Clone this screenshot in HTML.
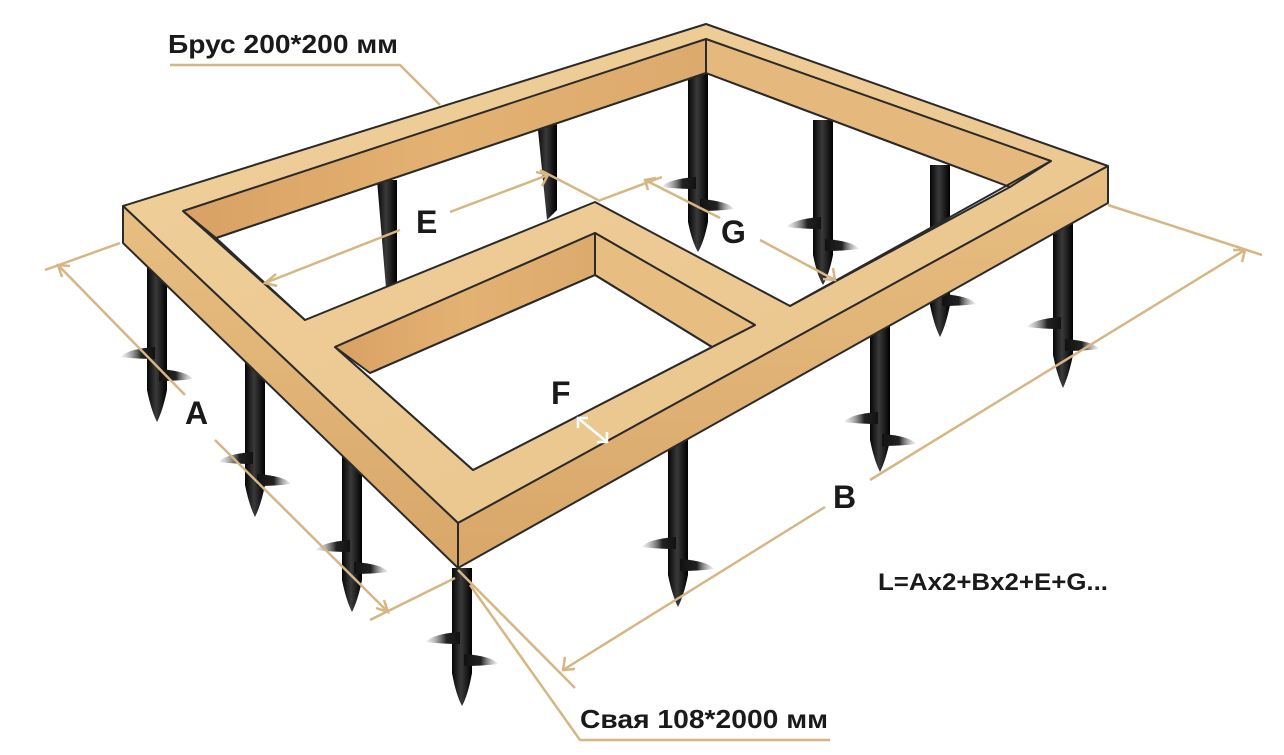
<!DOCTYPE html>
<html><head><meta charset="utf-8"><style>
html,body{margin:0;padding:0;background:#fff;}
svg{display:block;}
text{font-family:"Liberation Sans",sans-serif;font-weight:bold;fill:#1a1a1a;}
</style></head><body>
<svg width="1284" height="755" viewBox="0 0 1284 755" xmlns="http://www.w3.org/2000/svg">
<defs>
<linearGradient id="rod" x1="0" x2="1" y1="0" y2="0">
<stop offset="0" stop-color="#050505"/><stop offset="0.45" stop-color="#3a3a3a"/><stop offset="1" stop-color="#000"/>
</linearGradient>
<linearGradient id="bladeL" x1="0" x2="1" y1="0" y2="0">
<stop offset="0" stop-color="#ccc" stop-opacity="0.3"/><stop offset="0.6" stop-color="#222"/><stop offset="1" stop-color="#111"/>
</linearGradient>
<linearGradient id="bladeR" x1="0" x2="1" y1="0" y2="0">
<stop offset="0" stop-color="#111"/><stop offset="0.5" stop-color="#222"/><stop offset="1" stop-color="#ccc" stop-opacity="0.3"/>
</linearGradient>
<linearGradient id="top" x1="0" y1="0" x2="1" y2="1">
<stop offset="0" stop-color="#f0cf9a"/><stop offset="1" stop-color="#eac48c"/>
</linearGradient>
<linearGradient id="inner" x1="0" y1="0" x2="1" y2="0">
<stop offset="0" stop-color="#d9a164"/><stop offset="0.5" stop-color="#e3b273"/><stop offset="1" stop-color="#dcaa6c"/>
</linearGradient>
<linearGradient id="front" x1="0" y1="0" x2="0" y2="1">
<stop offset="0" stop-color="#e8be82"/><stop offset="1" stop-color="#d8a769"/>
</linearGradient>
<g id="pile">
<path d="M-2,-8 Q-30,-6 -36,2 Q-20,4 -2,4 Z" fill="url(#bladeL)"/>
<path d="M2,14 Q30,16 36,24 Q20,26 2,26 Z" fill="url(#bladeR)"/>
</g>
</defs>

<!-- piles -->
<g>
<g fill="url(#rod)">
<path d="M537,120 h20 v90 l-10,10 z"/>
<path d="M688,72 h20 v150 q-4,20 -10,30 q-6,-10 -10,-30 z"/>
<path d="M813,120 h20 v135 q-4,20 -10,30 q-6,-10 -10,-30 z"/>
<path d="M930,165 h20 v140 q-4,20 -10,32 q-6,-12 -10,-32 z"/>
<path d="M377,180 h20 v110 l-10,10 z"/>
<path d="M1053,220 h20 v135 q-4,20 -10,33 q-6,-13 -10,-33 z"/>
<path d="M870,325 h20 v115 q-4,20 -10,32 q-6,-12 -10,-32 z"/>
<path d="M668,440 h20 v135 q-4,20 -10,32 q-6,-12 -10,-32 z"/>
<path d="M147,240 h20 v150 q-4,20 -10,32 q-6,-12 -10,-32 z"/>
<path d="M245,330 h20 v155 q-4,20 -10,32 q-6,-12 -10,-32 z"/>
<path d="M342,445 h20 v135 q-4,20 -10,32 q-6,-12 -10,-32 z"/>
<path d="M452,568 h20 v105 q-4,22 -10,33 q-6,-11 -10,-33 z"/>
</g>
<use href="#pile" x="698" y="185"/>
<use href="#pile" x="823" y="225"/>
<use href="#pile" x="940" y="280"/>
<use href="#pile" x="1063" y="325"/>
<use href="#pile" x="880" y="420"/>
<use href="#pile" x="678" y="545"/>
<use href="#pile" x="157" y="355"/>
<use href="#pile" x="255" y="460"/>
<use href="#pile" x="352" y="548"/>
<use href="#pile" x="462" y="640"/>
</g>

<!-- frame -->
<g stroke="#2a2a2a" stroke-width="2" stroke-linejoin="round">
<path fill="url(#top)" fill-rule="evenodd" d="M123,206 L706,24 L1108,166 L458,523 Z
 M216,238 L706,73 L1010,187 L790,306 L595,202 L305,320 Z
 M335,347 L595,233 L755,325 L473,470 Z"/>
<path fill="url(#inner)" d="M183,211 L706,39 L706,73 L216,238 Z"/>
<path fill="#e5b97d" d="M706,39 L1051,161 L1010,187 L706,73 Z"/>
<line x1="183" y1="211" x2="305" y2="320"/>
<line x1="1051" y1="161" x2="790" y2="306"/>
<path fill="#fff" stroke="none" d="M336,348 L595,276 L712,347 L473,469 Z"/>
<path fill="url(#inner)" d="M335,347 L595,233 L595,275 L370,373 Z"/>
<path fill="#e8bd82" d="M595,233 L755,325 L712,347 L595,275 Z"/>
<polyline fill="none" points="370,373 595,275 712,347"/>
<line x1="335" y1="347" x2="473" y2="470"/>
<line x1="473" y1="470" x2="712" y2="347"/>
<path fill="url(#front)" d="M123,206 L458,523 L458,568 L123,243 Z"/>
<path fill="url(#front)" d="M458,523 L1108,166 L1108,203 L458,568 Z"/>
</g>

<!-- dimension lines -->
<g stroke="#d6b683" stroke-width="2.5" fill="none">
<polyline points="170,65 400,65 440,105"/>
<line x1="45" y1="270" x2="120" y2="243"/>
<line x1="58" y1="265" x2="185" y2="395"/>
<line x1="215" y1="440" x2="388" y2="612"/>
<polyline points="70,266 58,265 62,277"/>
<polyline points="376,608 388,612 384,600"/>
<line x1="370" y1="620" x2="455" y2="578"/>
<line x1="458" y1="570" x2="575" y2="688"/>
<polyline points="470,585 580,740 830,740"/>
<line x1="1108" y1="205" x2="1262" y2="255"/>
<line x1="563" y1="670" x2="825" y2="507"/>
<line x1="870" y1="480" x2="1245" y2="250"/>
<polyline points="565,657 563,670 575,669"/>
<polyline points="1233,250 1245,250 1242,262"/>
<line x1="265" y1="283" x2="400" y2="230"/>
<line x1="450" y1="212" x2="548" y2="175"/>
<polyline points="276,274 265,283 277,286"/>
<polyline points="536,172 548,175 542,186"/>
<line x1="540" y1="170" x2="598" y2="200"/>
<line x1="598" y1="201" x2="662" y2="177"/>
<line x1="645" y1="180" x2="720" y2="218"/>
<line x1="760" y1="240" x2="835" y2="280"/>
<polyline points="648,190 645,180 656,178"/>
<polyline points="833,268 835,280 823,279"/>
</g>
<g stroke="#fff" stroke-width="2.5" fill="none">
<line x1="578" y1="418" x2="607" y2="442"/>
<polyline points="578,428 578,418 588,418"/>
<polyline points="597,442 607,442 607,432"/>
</g>

<!-- labels -->
<text x="168" y="53" font-size="26" textLength="230" lengthAdjust="spacingAndGlyphs">Брус 200*200 мм</text>
<text x="580" y="728" font-size="26" textLength="248" lengthAdjust="spacingAndGlyphs">Свая 108*2000 мм</text>
<text x="185" y="424" font-size="32">A</text>
<text x="833" y="508" font-size="32">B</text>
<text x="416" y="233" font-size="32">E</text>
<text x="551" y="404" font-size="32">F</text>
<text x="721" y="243" font-size="32">G</text>
<text x="878" y="590" font-size="24" textLength="230" lengthAdjust="spacingAndGlyphs">L=Ax2+Bx2+E+G...</text>
</svg>
</body></html>
